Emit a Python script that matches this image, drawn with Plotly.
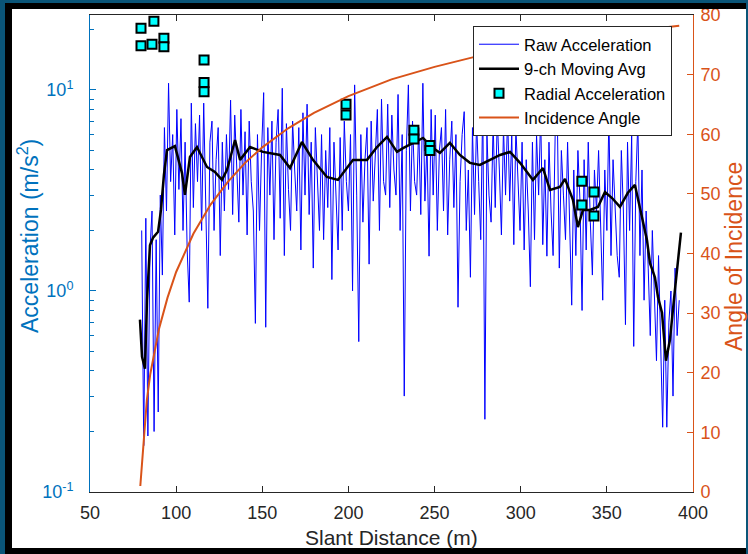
import numpy as np
import plotly.graph_objects as go

# ---------------- data ----------------
raw_start, raw_end = 80.0, 392.0
raw_acc = [
    2.0, 0.17, 2.3, 0.19, 1.6, 2.5, 0.2, 1.8, 0.25, 3.0,
    1.2, 6.5, 2.5, 10.8, 3.5, 6.0, 1.9, 8.0, 3.2, 7.2,
    2.0, 5.5, 1.6, 0.88, 8.6, 2.6, 6.8, 3.5, 7.5, 2.0,
    8.6, 3.0, 0.82, 5.5, 7.0, 2.0, 4.5, 6.5, 1.5, 5.5,
    2.5, 6.0, 3.2, 8.9, 2.4, 7.5, 4.0, 2.2, 8.0, 3.0,
    6.2, 1.9, 7.0, 3.5, 2.5, 0.69, 6.0, 2.0, 5.0, 9.7,
    0.66, 6.5, 3.0, 7.0, 1.8, 5.5, 8.0, 2.3, 10.2, 1.5,
    6.8, 3.2, 2.0, 7.0, 4.0, 2.5, 6.5, 1.6, 7.7, 3.0,
    8.5, 2.4, 5.5, 1.3, 6.5, 3.5, 2.0, 6.0, 1.8, 5.0,
    2.6, 6.5, 1.14, 5.5, 3.0, 1.6, 5.8, 2.0, 7.0, 3.5,
    2.5, 6.0, 1.0, 10.6, 3.0, 0.56, 6.0, 2.2, 4.5, 6.5,
    1.36, 7.0, 2.8, 5.0, 8.0, 2.0, 9.0, 3.5, 3.0, 8.5,
    2.6, 7.5, 4.0, 3.0, 9.5, 2.0, 6.0, 0.30, 5.0, 10.6,
    2.5, 7.0, 3.5, 3.0, 6.5, 2.4, 10.8, 2.8, 5.5, 1.49,
    8.0, 3.0, 7.5, 2.0, 5.0, 6.5, 2.5, 8.0, 1.9, 4.5,
    7.0, 2.6, 6.0, 0.83, 3.5, 6.0, 7.8, 2.0, 4.0, 1.17,
    6.5, 2.4, 7.0, 3.5, 1.8, 8.9, 0.23, 6.0, 3.0, 2.2,
    6.9, 2.6, 7.2, 4.0, 1.9, 6.5, 3.0, 7.5, 2.8, 6.0,
    1.7, 6.5, 3.5, 2.0, 5.5, 1.6, 4.5, 2.5, 1.05, 5.5,
    1.8, 6.0, 3.0, 7.7, 1.7, 4.5, 1.49, 5.5, 2.5, 1.5,
    6.0, 8.0, 1.3, 5.0, 3.0, 1.8, 5.5, 2.5, 0.85, 4.0,
    1.5, 5.0, 2.8, 0.80, 4.5, 1.6, 5.5, 2.2, 1.2, 4.0,
    2.5, 5.0, 1.8, 0.9, 4.0, 2.0, 7.5, 1.5, 4.5, 2.8,
    1.5, 1.17, 5.0, 2.5, 0.68, 5.5, 2.0, 6.0, 0.53, 3.5,
    7.0, 1.5, 4.0, 0.9, 2.5, 1.3, 0.6, 2.0, 1.0, 0.45,
    1.5, 0.6, 0.21, 0.9, 0.21, 0.7, 1.0, 0.3, 1.3, 0.6,
    0.9,
]
raw_x = np.linspace(raw_start, raw_end, len(raw_acc))

ma_x = [79.0, 80.2, 81.9, 83.1, 84.8, 86.6, 89.5, 91.2, 92.9, 94.7,
        99.3, 103.4, 105.1, 108.0, 112.1, 117.9, 122.5, 126.6, 129.5, 134.2,
        137.1, 142.9, 150.4, 160.3, 166.1, 173.0, 179.4, 187.5, 193.9, 199.2,
        202.6, 210.8, 216.6, 222.4, 228.2, 231.7, 237.5, 243.3, 249.1, 253.1,
        258.9, 264.7, 270.5, 276.3, 282.2, 288.0, 293.8, 299.6, 307.1, 312.9,
        317.0, 322.8, 325.7, 330.3, 333.2, 336.1, 340.2, 344.8, 348.9, 353.0,
        357.6, 362.2, 366.3, 369.2, 373.3, 375.0, 377.9, 379.7, 382.0, 384.3,
        386.6, 389.5, 393.0]
ma_acc = [0.72, 0.47, 0.41, 0.90, 1.69, 1.84, 1.97, 2.53, 3.78, 5.02,
          5.26, 3.86, 3.01, 4.64, 5.20, 4.14, 3.91, 3.57, 4.00, 5.64,
          4.49, 5.20, 4.92, 4.75, 4.09, 5.51, 4.49, 3.69, 3.57, 4.14,
          4.49, 4.49, 5.20, 5.84, 4.92, 5.14, 5.45, 5.77, 5.14, 4.87,
          5.45, 4.75, 4.34, 4.24, 4.49, 4.75, 4.92, 4.34, 3.57, 4.09,
          3.18, 3.29, 3.61, 2.84, 2.08, 2.53, 2.53, 2.62, 3.11, 2.90,
          2.62, 3.08, 3.37, 2.62, 1.79, 1.38, 1.17, 0.93, 0.78, 0.45,
          0.57, 1.01, 1.95]

rad_x = [79.6, 79.6, 87.1, 87.1, 86.0, 92.9, 92.9, 116.2, 116.2, 116.2,
         198.6, 198.6, 238.0, 238.0, 247.3, 247.3, 335.5, 335.5, 342.5, 342.5]
rad_acc = [20.3, 16.6, 24.2, 22.0, 16.9, 18.1, 16.4, 14.1, 10.9, 9.8,
           8.5, 7.5, 6.3, 5.7, 5.3, 5.0, 3.52, 2.68, 3.11, 2.36]

ang_x = [79.2, 80.0, 81.0, 82.0, 83.0, 85.0, 87.5, 90.0, 95.0, 100.0,
         110.0, 120.0, 130.0, 140.0, 150.0, 165.0, 180.0, 200.0, 225.0, 250.0,
         275.0, 300.0, 325.0, 350.0, 375.0, 392.0]
ang_deg = [1.0, 4.0, 9.0, 12.7, 15.4, 19.8, 23.9, 27.3, 32.6, 36.9,
           43.3, 48.2, 52.0, 55.2, 57.8, 61.0, 63.6, 66.4, 69.2, 71.3,
           73.1, 74.5, 75.8, 76.8, 77.7, 78.2]

x_ticks = [50, 100, 150, 200, 250, 300, 350, 400]
y_ticks = [0.1, 1, 10]
y_ticktext = ["10<sup>-1</sup>", "10<sup>0</sup>", "10<sup>1</sup>"]
y_minor = [0.2, 0.3, 0.4, 0.5, 0.6, 0.7, 0.8, 0.9, 2, 3, 4, 5, 6, 7, 8, 9, 20]
y2_ticks = [0, 10, 20, 30, 40, 50, 60, 70, 80]

# ---------------- styling ----------------
W, H = 748, 554
L, R, T, B = 90, 693, 15, 492
PW, PH = R - L, B - T
FONT = "Liberation Sans, Arial, Helvetica, sans-serif"
BLUE_AX = "#0072BD"
ORANGE = "#D95319"
GRAY = "#262626"


def px(xp):
    return (xp - L) / PW


def py(yp):
    return (B - yp) / PH


fig = go.Figure()
fig.add_trace(go.Scatter(x=raw_x, y=raw_acc, mode="lines", name="Raw Acceleration",
                         line=dict(color="#0000FF", width=1)))
fig.add_trace(go.Scatter(x=ma_x, y=ma_acc, mode="lines", name="9-ch Moving Avg",
                         line=dict(color="black", width=2.5)))
fig.add_trace(go.Scatter(x=rad_x, y=rad_acc, mode="markers", name="Radial Acceleration",
                         cliponaxis=False,
                         marker=dict(symbol="square", size=9, color="#00FFFF",
                                     line=dict(color="black", width=2))))
fig.add_trace(go.Scatter(x=ang_x, y=ang_deg, mode="lines", name="Incidence Angle",
                         yaxis="y2", line=dict(color=ORANGE, width=2)))

shapes = []
def rect(x0, y0, x1, y1, color):
    shapes.append(dict(type="rect", xref="paper", yref="paper",
                       x0=px(x0), x1=px(x1), y0=py(y0), y1=py(y1),
                       fillcolor=color, line=dict(width=0), layer="above"))

FRAME_BLUE = "#0a5578"
rect(0, 0, 5, H, FRAME_BLUE)
rect(5, 0, 12, H, "black")
rect(0, 0, W, 3, FRAME_BLUE)
rect(5, 3, W, 9, "black")
rect(5, 548, W, H, "black")
rect(746, 0, W, H, FRAME_BLUE)

fig.update_layout(
    width=W, height=H, autosize=False,
    margin=dict(l=L, r=W - R, t=T, b=H - B, pad=0, autoexpand=False),
    paper_bgcolor="white", plot_bgcolor="white",
    font=dict(family=FONT, size=18, color=GRAY),
    showlegend=True,
    legend=dict(x=px(473), y=py(26), xanchor="left", yanchor="top",
                bgcolor="white", bordercolor=GRAY, borderwidth=1,
                font=dict(family=FONT, size=16.5, color="black"),
                itemwidth=40, tracegroupgap=0),
    xaxis=dict(range=[50, 400], tickvals=x_ticks, ticks="inside", ticklen=6,
               tickcolor=GRAY, showline=True, linecolor=GRAY, linewidth=1,
               mirror="ticks", showgrid=False, zeroline=False, automargin=False,
               tickfont=dict(size=18, color=GRAY), ticklabelstandoff=4),
    yaxis=dict(type="log", range=[-1, 1.373], tickvals=y_ticks, ticktext=y_ticktext,
               ticks="inside", ticklen=6, tickcolor=BLUE_AX, showline=True,
               linecolor=BLUE_AX, linewidth=1, showgrid=False, zeroline=False,
               automargin=False,
               tickfont=dict(size=18, color=BLUE_AX), ticklabelstandoff=12,
               minor=dict(tickvals=y_minor, ticks="inside", ticklen=3.5,
                          tickcolor=BLUE_AX, showgrid=False)),
    yaxis2=dict(range=[0, 80], tickvals=y2_ticks, overlaying="y", side="right",
                ticks="inside", ticklen=6, tickcolor=ORANGE, showline=True,
                linecolor=ORANGE, linewidth=1, showgrid=False, zeroline=False,
                automargin=False,
                tickfont=dict(size=18, color=ORANGE), ticklabelstandoff=3),
    shapes=shapes,
    annotations=[
        dict(text="Slant Distance (m)", xref="paper", yref="paper",
             x=0.5, y=py(537), xanchor="center", yanchor="middle",
             showarrow=False, font=dict(size=21, color=GRAY)),
        dict(text="Acceleration (m/s<sup>2</sup>)", xref="paper", yref="paper",
             x=px(28), y=py(236), xanchor="center", yanchor="middle", textangle=-90,
             showarrow=False, font=dict(size=23, color=BLUE_AX)),
        dict(text="Angle of Incidence", xref="paper", yref="paper",
             x=px(734), y=py(257), xanchor="center", yanchor="middle", textangle=-90,
             showarrow=False, font=dict(size=23, color=ORANGE)),
    ],
)

fig.write_html("out.html")
